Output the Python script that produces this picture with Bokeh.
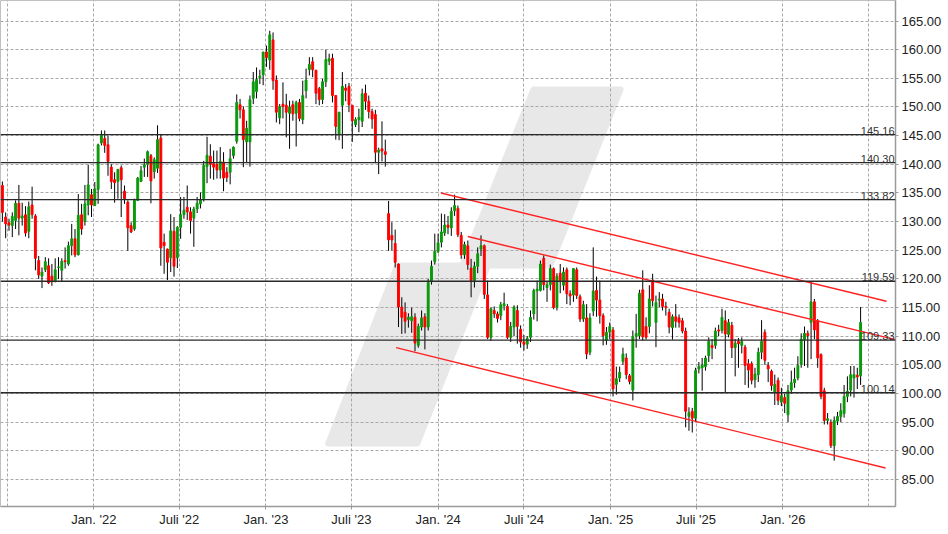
import pandas as pd
from bokeh.plotting import figure
from bokeh.models import Range1d, FixedTicker, NumeralTickFormatter, CustomJSTickFormatter, ColumnDataSource, Span
from bokeh.core.properties import value
from bokeh.embed import file_html
from bokeh.resources import INLINE

# ---------------- data (weekly candles) ----------------
first_week = "2021-06-21"

opens = [
    136.3, 130.8, 129.8, 129.3, 130.2, 133.2, 130.6, 131.2, 128.3, 132.9,
    131.0, 123.2, 120.5, 121.6, 122.3, 120.5, 119.6, 122.0, 121.5, 123.2,
    122.6, 125.8, 127.0, 124.2, 131.2, 130.0, 132.9, 134.7, 132.8, 135.6,
    143.7, 144.5, 143.4, 139.5, 137.3, 137.0, 139.4, 135.3, 133.4, 129.3,
    128.7, 133.7, 137.0, 139.5, 140.0, 141.5, 138.7, 139.3, 144.6, 126.4,
    125.2, 123.7, 128.3, 123.7, 129.0, 131.2, 132.5, 131.7, 130.6, 132.2,
    133.1, 134.0, 139.6, 141.4, 140.1, 140.0, 139.0, 140.4, 138.6, 138.6,
    141.5, 144.0, 150.4, 149.5, 143.9, 143.9, 151.5, 152.7, 155.1, 155.6,
    159.6, 158.2, 161.7, 154.7, 148.1, 150.5, 150.3, 148.9, 150.4, 148.9,
    150.8, 147.8, 152.8, 156.5, 157.9, 156.4, 153.2, 151.3, 154.4, 158.0,
    158.5, 152.0, 145.3, 150.3, 153.3, 153.6, 150.3, 146.9, 147.8, 147.5,
    152.4, 151.0, 149.2, 148.7, 142.1, 142.7, 142.2, 131.4, 127.6, 126.2,
    122.6, 115.1, 114.2, 112.9, 112.7, 113.3, 108.4, 111.6, 113.4, 111.6,
    119.5, 123.0, 124.8, 126.4, 128.0, 129.4, 128.9, 131.9, 132.3, 127.6,
    124.2, 125.8, 121.9, 119.7, 122.2, 125.2, 125.8, 117.2, 109.8, 114.5,
    113.9, 113.6, 115.3, 115.2, 109.8, 111.6, 114.5, 111.2, 109.0, 108.6,
    109.8, 113.9, 117.9, 118.0, 123.6, 118.5, 119.0, 121.8, 115.0, 121.0,
    118.9, 121.6, 117.4, 117.2, 121.6, 116.9, 113.0, 113.2, 107.2, 114.4,
    118.0, 116.3, 113.6, 109.3, 110.7, 111.1, 101.6, 102.7, 105.6, 106.2,
    103.1, 100.6, 110.0, 110.1, 118.1, 111.7, 111.7, 119.8, 112.4, 116.3,
    116.5, 115.2, 114.2, 111.5, 113.4, 113.2, 112.7, 110.9, 96.0, 96.9,
    95.7, 104.3, 104.5, 104.7, 106.6, 108.4, 108.4, 111.1, 111.0, 112.7,
    110.3, 111.9, 108.0, 109.1, 108.4, 108.1, 105.2, 105.2, 102.4, 103.3,
    107.2, 110.7, 104.9, 103.9, 100.2, 102.3, 98.5, 99.3, 96.3, 100.6,
    101.9, 102.7, 105.1, 109.4, 110.5, 112.4, 116.0, 112.7, 106.8, 100.5,
    95.3, 95.0, 90.9, 95.2, 96.0, 96.5, 99.5, 100.6, 102.7, 103.2,
    103.1,
]

highs = [
    137.0, 131.6, 130.5, 131.6, 133.7, 136.4, 133.3, 132.7, 133.5, 136.1,
    131.3, 124.0, 122.0, 123.8, 123.6, 122.6, 123.6, 123.8, 123.6, 125.5,
    126.5, 129.6, 128.7, 134.8, 133.1, 136.4, 139.9, 135.7, 136.9, 143.6,
    145.9, 145.9, 145.0, 140.0, 138.6, 139.2, 139.8, 136.3, 133.7, 129.9,
    134.0, 137.8, 139.7, 141.0, 142.4, 141.8, 141.2, 146.8, 145.3, 127.9,
    125.3, 131.3, 130.8, 129.2, 134.3, 134.3, 136.3, 132.5, 132.6, 134.3,
    135.1, 140.6, 144.8, 143.5, 142.4, 142.4, 143.0, 142.1, 139.5, 142.7,
    143.1, 152.2, 151.4, 150.1, 147.6, 152.0, 156.1, 156.9, 156.5, 159.6,
    160.7, 163.3, 163.0, 155.5, 150.5, 154.3, 152.3, 151.1, 151.1, 151.1,
    151.4, 154.6, 156.7, 158.7, 158.7, 156.5, 153.5, 154.9, 160.0, 159.3,
    159.3, 152.0, 149.1, 156.1, 154.0, 154.2, 150.3, 148.2, 149.7, 153.2,
    153.9, 152.0, 149.7, 149.5, 142.9, 147.5, 144.3, 133.6, 129.9, 128.6,
    122.7, 116.8, 115.9, 114.0, 115.0, 114.0, 112.2, 114.5, 114.0, 120.0,
    123.2, 127.9, 127.9, 131.4, 131.3, 131.0, 132.5, 134.7, 132.8, 128.2,
    126.5, 126.7, 123.5, 123.0, 125.5, 127.6, 126.0, 119.7, 115.0, 115.2,
    114.3, 116.0, 117.6, 115.6, 112.5, 115.4, 115.4, 111.9, 110.2, 110.0,
    114.5, 118.3, 119.7, 123.2, 124.1, 119.5, 122.5, 122.0, 121.0, 122.6,
    122.0, 122.0, 118.0, 121.8, 122.0, 117.3, 116.2, 115.6, 114.0, 125.5,
    120.4, 119.7, 114.0, 111.6, 112.4, 111.6, 104.7, 104.7, 108.0, 107.0,
    103.4, 111.0, 113.9, 118.1, 121.5, 113.3, 118.9, 120.9, 117.1, 117.7,
    117.4, 116.0, 114.8, 113.8, 115.6, 113.8, 113.2, 111.5, 97.6, 97.5,
    104.5, 105.5, 106.2, 106.6, 109.8, 109.5, 111.5, 112.0, 114.8, 114.5,
    113.0, 112.5, 109.5, 109.7, 109.8, 108.5, 106.0, 105.6, 104.5, 108.0,
    112.8, 111.2, 105.5, 104.2, 103.3, 102.8, 101.0, 100.0, 101.5, 104.0,
    104.5, 106.5, 110.5, 111.7, 111.0, 119.5, 116.5, 113.0, 107.0, 101.0,
    96.6, 95.5, 96.0, 96.8, 98.3, 101.5, 103.0, 104.8, 104.8, 104.5,
    115.1,
]

lows = [
    130.0, 127.1, 128.4, 127.3, 128.7, 127.6, 129.3, 127.4, 127.1, 130.5,
    121.5, 120.0, 118.4, 121.2, 119.1, 118.8, 119.4, 120.0, 119.5, 121.8,
    122.3, 124.1, 123.8, 124.1, 127.7, 129.3, 131.1, 130.8, 132.7, 133.1,
    143.3, 142.0, 138.0, 135.7, 133.3, 134.0, 130.8, 133.1, 124.9, 128.0,
    128.4, 133.7, 136.9, 137.8, 137.8, 133.2, 137.5, 138.5, 122.3, 120.9,
    119.8, 121.2, 120.4, 121.9, 127.0, 130.5, 130.3, 127.9, 125.6, 131.5,
    132.3, 133.5, 136.7, 137.5, 137.3, 137.5, 137.5, 135.3, 136.9, 136.5,
    141.0, 143.6, 148.0, 139.5, 140.4, 139.6, 150.5, 151.5, 154.0, 153.8,
    157.0, 156.5, 153.0, 147.3, 147.0, 148.0, 144.7, 142.7, 147.6, 143.1,
    147.5, 147.0, 151.5, 155.5, 155.2, 150.5, 150.3, 150.5, 153.5, 157.3,
    150.8, 144.3, 144.2, 142.7, 151.0, 149.1, 143.9, 146.5, 145.6, 146.5,
    149.5, 148.0, 146.2, 140.2, 138.3, 140.5, 139.6, 124.9, 125.0, 122.0,
    111.6, 110.4, 110.5, 111.5, 110.6, 107.4, 108.0, 111.0, 107.7, 111.0,
    119.0, 122.5, 124.5, 125.5, 127.5, 127.8, 127.5, 131.0, 127.3, 123.5,
    123.5, 121.6, 116.8, 118.5, 121.0, 124.0, 116.5, 109.5, 109.2, 113.2,
    112.4, 112.8, 114.5, 109.5, 109.0, 110.0, 108.7, 108.0, 107.5, 107.8,
    109.0, 112.9, 112.6, 117.8, 118.0, 116.0, 118.0, 114.7, 114.5, 117.5,
    118.0, 115.6, 115.4, 116.0, 116.5, 112.5, 112.5, 106.0, 106.7, 113.5,
    113.4, 112.2, 108.4, 108.5, 109.5, 99.5, 99.8, 102.0, 105.0, 102.5,
    101.6, 98.8, 108.0, 109.5, 109.2, 109.4, 110.5, 115.2, 108.1, 115.0,
    114.5, 113.6, 110.5, 109.4, 111.5, 111.5, 110.5, 94.1, 93.5, 93.2,
    95.0, 103.5, 100.5, 104.0, 105.5, 106.0, 107.8, 110.0, 110.5, 100.2,
    109.8, 106.2, 103.0, 104.5, 107.0, 101.5, 101.0, 101.6, 101.0, 102.0,
    106.0, 105.0, 102.0, 100.5, 98.0, 98.0, 97.8, 96.6, 95.0, 100.0,
    101.0, 102.3, 104.5, 104.8, 104.5, 106.0, 109.5, 104.5, 99.0, 94.6,
    94.6, 90.5, 88.3, 94.5, 95.0, 95.8, 98.5, 99.5, 99.3, 100.8,
    101.5,
]

closes = [
    131.6, 129.6, 129.4, 130.9, 133.2, 130.6, 131.0, 128.0, 132.6, 131.2,
    123.6, 120.7, 121.2, 123.0, 119.3, 119.5, 121.6, 122.1, 123.1, 123.0,
    125.8, 127.0, 124.2, 131.1, 128.7, 133.1, 136.4, 132.9, 135.7, 143.4,
    145.2, 143.3, 140.5, 137.0, 136.8, 139.1, 137.3, 134.0, 128.9, 128.2,
    133.7, 137.6, 138.9, 139.9, 142.2, 137.1, 140.8, 144.3, 125.4, 125.8,
    122.9, 128.4, 122.2, 129.0, 131.2, 132.0, 131.7, 130.2, 132.2, 133.2,
    133.8, 139.8, 141.6, 140.0, 139.5, 139.0, 140.5, 137.6, 137.7, 141.0,
    143.0, 150.8, 149.5, 144.3, 146.3, 151.3, 154.4, 154.8, 155.4, 159.6,
    158.6, 162.6, 154.6, 149.1, 150.1, 150.1, 149.1, 150.0, 148.8, 150.8,
    148.0, 152.0, 154.7, 157.4, 156.5, 152.4, 151.3, 154.4, 158.3, 158.4,
    152.0, 146.6, 149.1, 153.6, 152.9, 150.4, 147.6, 147.8, 148.2, 152.3,
    151.0, 149.2, 147.9, 142.1, 142.5, 142.3, 141.7, 126.8, 126.8, 122.9,
    115.1, 113.3, 112.6, 113.3, 113.4, 108.8, 111.7, 113.2, 111.6, 119.4,
    122.2, 124.8, 126.3, 128.2, 129.4, 129.0, 131.8, 132.8, 127.7, 124.2,
    126.0, 122.5, 119.7, 122.2, 124.4, 125.8, 117.3, 109.8, 114.8, 113.9,
    113.1, 115.5, 115.7, 109.8, 111.7, 115.1, 111.7, 109.0, 108.6, 109.6,
    113.3, 118.0, 118.2, 122.6, 119.0, 119.0, 121.8, 115.0, 120.5, 119.7,
    121.2, 117.4, 117.0, 121.8, 117.1, 113.0, 115.5, 106.9, 113.2, 117.9,
    116.3, 113.6, 110.1, 110.7, 111.7, 100.8, 102.6, 103.7, 106.9, 103.3,
    102.1, 109.9, 110.5, 117.5, 109.9, 109.8, 116.5, 116.2, 115.9, 116.5,
    115.2, 115.0, 111.6, 113.4, 112.6, 112.4, 110.9, 96.9, 96.7, 95.7,
    104.0, 104.7, 105.0, 106.2, 109.1, 108.0, 110.9, 110.9, 113.3, 110.4,
    112.4, 108.0, 108.8, 108.7, 109.1, 104.9, 104.1, 102.3, 103.4, 107.2,
    109.1, 105.8, 104.3, 101.4, 101.6, 98.8, 99.6, 98.3, 100.5, 101.9,
    102.5, 104.9, 109.5, 110.5, 110.1, 116.0, 111.1, 106.2, 99.5, 95.3,
    95.6, 90.9, 95.3, 96.0, 97.0, 99.5, 100.4, 103.3, 103.3, 102.9,
    112.4,
]

# horizontal support / resistance levels
levels = [145.16, 140.30, 133.82, 119.59, 109.33, 100.14]

# trend channel lines (start / end)
channel_start_dates = ["2024-01-07", "2024-03-04", "2023-10-04"]
channel_start_prices = [135.0, 127.4, 108.0]
channel_end_dates = ["2026-08-09", "2026-08-28", "2026-08-07"]
channel_end_prices = [116.1, 109.4, 87.0]

# axis ticks
x_tick_dates = ["2022-01-01", "2022-07-01", "2023-01-01", "2023-07-01", "2024-01-01",
                "2024-07-01", "2025-01-01", "2025-07-01", "2026-01-01"]
x_tick_labels = ["Jan. '22", "Juli '22", "Jan. '23", "Juli '23", "Jan. '24",
                 "Juli '24", "Jan. '25", "Juli '25", "Jan. '26"]
x_grid_dates = ["2021-07-01"] + x_tick_dates + ["2026-07-01"]
y_ticks = [85, 90, 95, 100, 105, 110, 115, 120, 125, 130, 135, 140, 145, 150, 155, 160, 165]

# background watermark shape
logo_dates = ["2024-07-21", "2025-01-22", "2024-08-26", "2024-04-16", "2023-11-18",
              "2023-05-13", "2023-10-06", "2024-02-21"]
logo_prices = [153.05, 153.05, 122.34, 122.34, 91.28, 91.28, 122.34, 122.34]

# ---------------- build ----------------
n = len(closes)
dates = pd.date_range(first_week, periods=n, freq="7D")
up = [c >= o for o, c in zip(opens, closes)]
src = ColumnDataSource(dict(
    date=dates,
    open=opens, high=highs, low=lows, close=closes,
    top=[max(o, c) for o, c in zip(opens, closes)],
    bottom=[min(o, c) for o, c in zip(opens, closes)],
    color=["#0a990a" if u else "#ff0000" for u in up],
))

def ms(d):
    return pd.Timestamp(d).value // 10**6

x_start = pd.Timestamp("2021-06-17")
x_end = pd.Timestamp("2026-08-28")

p = figure(frame_width=895, frame_height=506, x_axis_type="datetime", y_axis_location="right",
           x_range=Range1d(x_start, x_end), y_range=Range1d(80.29, 168.58),
           output_backend="svg", toolbar_location=None,
           min_border_left=0, min_border_top=0, min_border_right=0, min_border_bottom=0)

p.background_fill_color = "white"
p.border_fill_color = "white"
p.outline_line_color = "#c0c0c0"
p.outline_line_width = 1

# watermark
wm = p.patch(x=pd.to_datetime(logo_dates), y=logo_prices, fill_color="#e8e8e8",
             line_color="#e8e8e8", line_width=6, line_join="round")
wm.level = "image"

# grids
p.xgrid.ticker = FixedTicker(ticks=[ms(d) for d in x_grid_dates])
p.ygrid.ticker = FixedTicker(ticks=y_ticks)
for g in (p.xgrid, p.ygrid):
    g.grid_line_color = "#a8a8a8"
    g.grid_line_dash = "3 2"
    g.grid_line_width = 1

# axes
xa = p.xaxis[0]
xa.ticker = FixedTicker(ticks=[ms(d) for d in x_tick_dates])
xa.formatter = CustomJSTickFormatter(
    args=dict(tv=[ms(d) for d in x_tick_dates], labels=x_tick_labels),
    code="const i = tv.indexOf(tick); return i >= 0 ? labels[i] : '';")
ya = p.yaxis[0]
ya.ticker = FixedTicker(ticks=y_ticks)
ya.formatter = NumeralTickFormatter(format="0.00")
for ax in (xa, ya):
    ax.axis_line_color = "#9a9a9a"
    ax.axis_line_width = 1.5
    ax.major_tick_line_color = "#9a9a9a"
    ax.major_tick_out = 3
    ax.major_tick_in = 0
    ax.minor_tick_line_color = None
    ax.major_label_text_font = "Liberation Sans"
    ax.major_label_text_font_size = "13px"
    ax.major_label_text_color = "#222222"
xa.major_label_standoff = 2
ya.major_label_standoff = 3

# candles
p.segment(x0="date", y0="low", x1="date", y1="high", source=src,
          line_color="black", line_width=1)
p.vbar(x="date", top="top", bottom="bottom", width=4 * 86400000, source=src,
       fill_color="color", line_color="color", line_width=1)

# horizontal levels
for lv in levels:
    p.add_layout(Span(location=lv, dimension="width", line_color="#2a2a2a", line_width=1.3))

# trend channel
p.segment(x0=pd.to_datetime(channel_start_dates), y0=channel_start_prices,
          x1=pd.to_datetime(channel_end_dates), y1=channel_end_prices,
          line_color="#ff2222", line_width=1.4)

# level labels
p.text(x=[x_end] * len(levels), y=levels, text=[f"{v:.2f}" for v in levels],
       text_align="right", text_baseline="bottom", x_offset=-1, y_offset=0,
       text_font=value("Liberation Sans"), text_font_size="11px", text_color="#333333")

open("out.html", "w").write(file_html(p, INLINE))
